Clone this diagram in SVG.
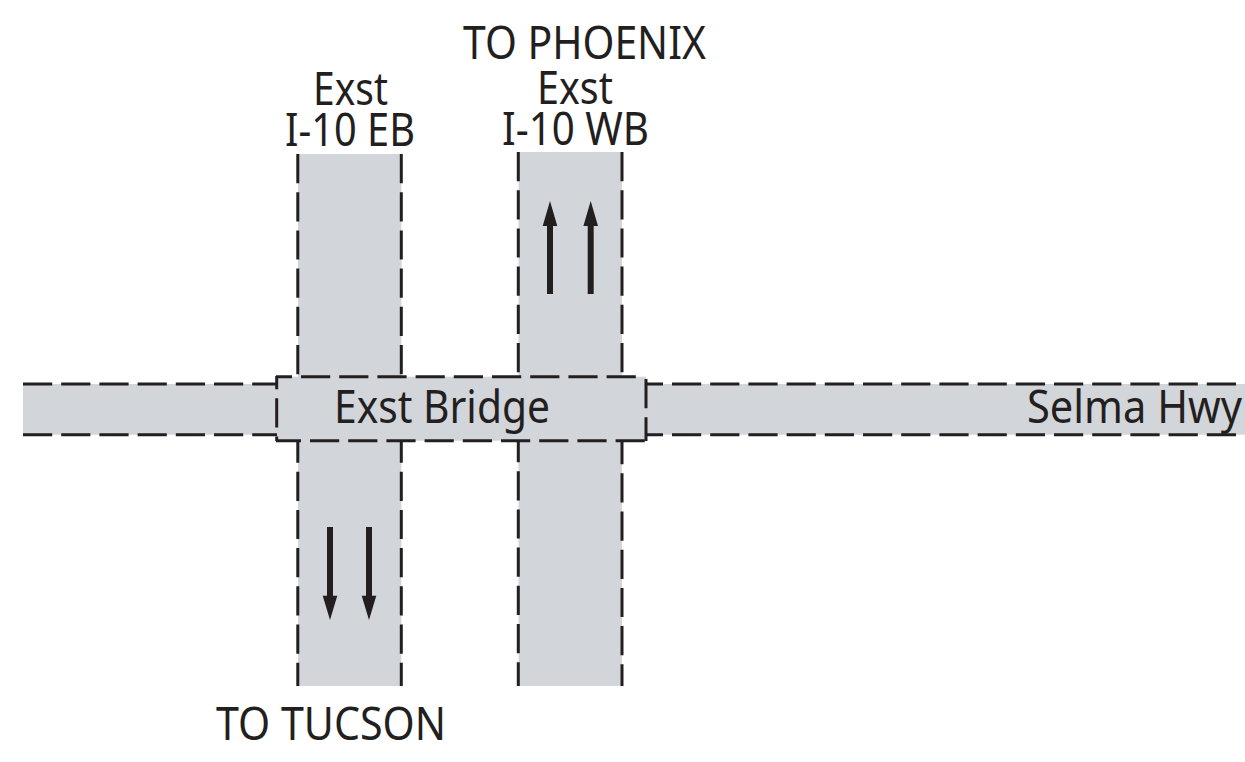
<svg xmlns="http://www.w3.org/2000/svg" width="1245" height="762" viewBox="0 0 1245 762">
<style>
.road{fill:#d2d5d9;stroke:none}
.edge{fill:none;stroke:#231f20;stroke-width:3;stroke-dasharray:29.2 9}
.shaft{fill:none;stroke:#231f20;stroke-width:6}
.head{fill:#231f20;stroke:none}
text{font-family:"Noto Sans","Open Sans","Liberation Sans",sans-serif;font-size:45px;fill:#231f20;text-anchor:start}
</style>
<rect width="1245" height="762" fill="#ffffff"/>
<g id="selma-hwy">
<rect class="road" x="23" y="384" width="1222" height="50.7"/>
<path class="edge" d="M23 384H277M23 434.7H277"/>
<path class="edge" stroke-dashoffset="12.2" d="M646 384H1245M646 434.7H1245"/>
<text x="1027" y="423" textLength="215" lengthAdjust="spacingAndGlyphs">Selma Hwy</text>
</g>
<g id="i-10-eb">
<rect class="road" x="298" y="154" width="103.4" height="532"/>
<path class="edge" d="M297.8 154V375M401.3 154V375"/>
<path class="edge" stroke-dashoffset="7.5" d="M297.8 441V686M401.3 441V686"/>
<text x="313" y="105" textLength="75" lengthAdjust="spacingAndGlyphs">Exst</text>
<text x="285" y="146" textLength="130" lengthAdjust="spacingAndGlyphs">I-10 EB</text>
</g>
<g id="i-10-wb">
<rect class="road" x="518.5" y="152" width="103.4" height="534"/>
<path class="edge" d="M518.3 152V373M622 152V373"/>
<path class="edge" stroke-dashoffset="8" d="M518.3 441V686"/>
<path class="edge" stroke-dashoffset="5.9" d="M622 441V686"/>
<text x="537" y="104" textLength="76" lengthAdjust="spacingAndGlyphs">Exst</text>
<text x="502" y="145" textLength="147" lengthAdjust="spacingAndGlyphs">I-10 WB</text>
</g>
<g id="exst-bridge">
<rect class="road" x="277" y="376.7" width="369" height="64"/>
<path class="edge" stroke-dashoffset="13.2" d="M276 376.7H637"/>
<path class="edge" stroke-dashoffset="4.2" d="M276 440.7H647"/>
<path class="edge" stroke-dashoffset="16" d="M276.7 376V441"/>
<path class="edge" d="M646 379V441"/>
<text x="334" y="423" textLength="216" lengthAdjust="spacingAndGlyphs">Exst Bridge</text>
</g>
<g id="connectors">
<path class="shaft" d="M550 226V294M590.7 226V294M330 527V596M369 527V596"/>
<path class="head" d="M550 201L557.3 226H542.7ZM590.7 201L598 226H583.4ZM330 620L337.3 595.7H322.7ZM369 620L376.3 595.7H361.7Z"/>
</g>
<g id="labels">
<text x="463" y="59" textLength="243" lengthAdjust="spacingAndGlyphs">TO PHOENIX</text>
<text x="216" y="740" textLength="230" lengthAdjust="spacingAndGlyphs">TO TUCSON</text>
</g>
</svg>
